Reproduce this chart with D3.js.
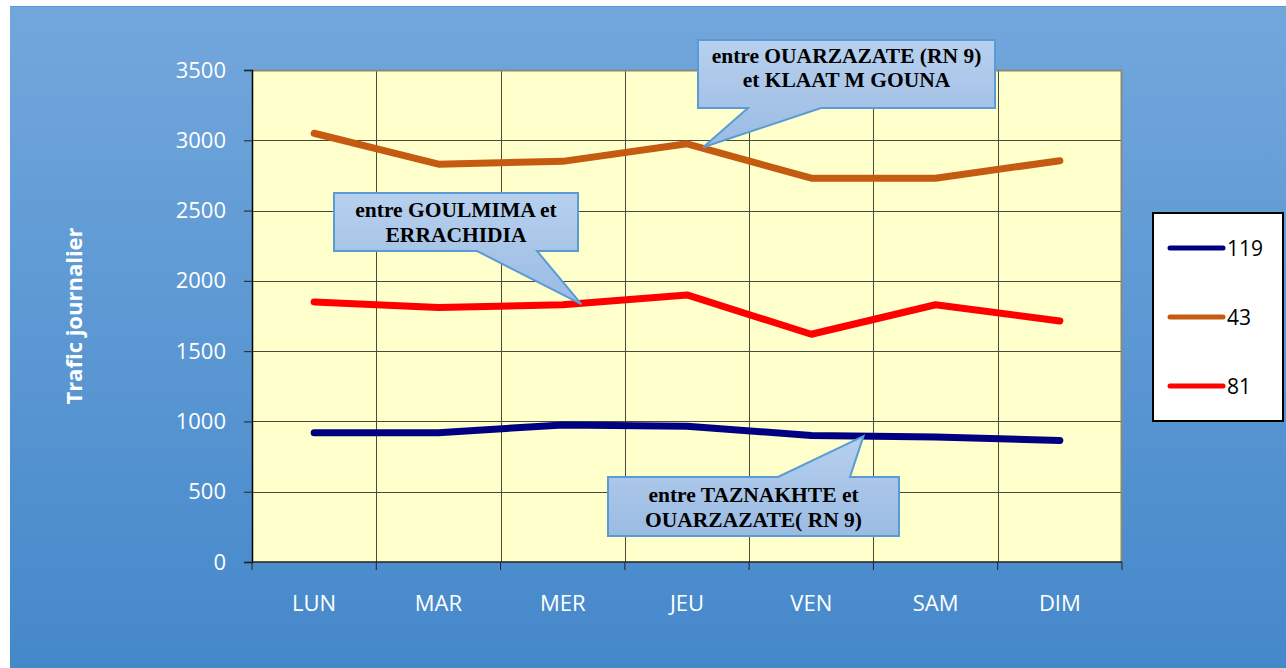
<!DOCTYPE html>
<html lang="fr">
<head>
<meta charset="UTF-8">
<title>Trafic journalier</title>
<script src="https://d3js.org/d3.v7.min.js"></script>
<style>
  body { margin: 0; background: #ffffff; }
  svg { display: block; }
</style>
</head>
<body>
<div id="chart"></div>
<script>
// data
var days = ["LUN", "MAR", "MER", "JEU", "VEN", "SAM", "DIM"];
var route119 = [920, 920, 975, 965, 900, 890, 865];
var route43 = [3050, 2830, 2850, 2975, 2730, 2730, 2855];
var route81 = [1850, 1810, 1830, 1900, 1620, 1830, 1715];
var yTicks = [0, 500, 1000, 1500, 2000, 2500, 3000, 3500];
var seriesNames = ["119", "43", "81"];
var seriesColors = ["#000080", "#C55A11", "#FF0000"];

var W = 1286, H = 668;
var margin = {top: 70, right: 164, bottom: 106, left: 252};
var width = W - margin.left - margin.right,   // 870
    height = H - margin.top - margin.bottom;  // 492

var svg = d3.select("#chart").append("svg")
    .attr("width", W)
    .attr("height", H);

var defs = svg.append("defs");
var bg = defs.append("linearGradient").attr("id", "bgGrad")
    .attr("x1", 0).attr("y1", 0).attr("x2", 0).attr("y2", 1);
bg.append("stop").attr("offset", "0%").attr("stop-color", "#72A7DC");
bg.append("stop").attr("offset", "100%").attr("stop-color", "#4588CA");
var cg = defs.append("linearGradient").attr("id", "calloutGrad")
    .attr("x1", 0).attr("y1", 0).attr("x2", 0).attr("y2", 1);
cg.append("stop").attr("offset", "0%").attr("stop-color", "#B7D0EE");
cg.append("stop").attr("offset", "100%").attr("stop-color", "#9ABBE3");

// blue panel
svg.append("rect")
    .attr("x", 10).attr("y", 6)
    .attr("width", W - 10).attr("height", H - 6)
    .attr("fill", "url(#bgGrad)");
svg.append("line")
    .attr("x1", 10).attr("x2", W).attr("y1", 6.5).attr("y2", 6.5)
    .attr("stroke", "#5B9BD5").attr("stroke-width", 1);

var g = svg.append("g")
    .attr("transform", "translate(" + margin.left + "," + margin.top + ")");

// scales
var x = d3.scaleBand().domain(days).range([0, width]);
var y = d3.scaleLinear().domain([0, 3500]).range([height, 0]);

// plot area
g.append("rect")
    .attr("width", width).attr("height", height)
    .attr("fill", "#FFFFCC");

// grid
g.selectAll(".hgrid").data(yTicks.slice(1, -1)).enter().append("line")
    .attr("x1", 0).attr("x2", width)
    .attr("y1", function(d) { return Math.round(y(d)) + 0.5; })
    .attr("y2", function(d) { return Math.round(y(d)) + 0.5; })
    .attr("stroke", "#4a4a3a").attr("stroke-width", 1);
g.selectAll(".vgrid").data(days.slice(1)).enter().append("line")
    .attr("x1", function(d) { return Math.round(x(d)) + 0.5; })
    .attr("x2", function(d) { return Math.round(x(d)) + 0.5; })
    .attr("y1", 0).attr("y2", height)
    .attr("stroke", "#4a4a3a").attr("stroke-width", 1);

// plot border (top / right grey)
g.append("path")
    .attr("d", "M0,0.5H" + (width - 0.5) + "V" + height)
    .attr("fill", "none").attr("stroke", "#8a8a7a").attr("stroke-width", 2);

// y axis
var yAxis = g.append("g")
    .call(d3.axisLeft(y).tickValues(yTicks).tickFormat(d3.format("d"))
      .tickSize(8).tickPadding(18));
yAxis.select(".domain").attr("stroke", "#000").attr("stroke-width", 1.5);
yAxis.selectAll(".tick line").attr("stroke", "#222");
yAxis.selectAll("text")
    .attr("fill", "#fff")
    .style("font-family", "'Open Sans', sans-serif")
    .style("font-size", "22px");

// x axis: ticks on band boundaries
var xAxis = g.append("g").attr("transform", "translate(0," + height + ")");
xAxis.append("line")
    .attr("x1", 0).attr("x2", width).attr("y1", 0).attr("y2", 0)
    .attr("stroke", "#222").attr("stroke-width", 1.5);
var bounds = days.map(function(d) { return x(d); }).concat([width]);
xAxis.selectAll(".xt").data(bounds).enter().append("line")
    .attr("x1", function(d) { return d; }).attr("x2", function(d) { return d; })
    .attr("y1", 0).attr("y2", 8)
    .attr("stroke", "#222");
xAxis.selectAll(".xl").data(days).enter().append("text")
    .attr("x", function(d) { return x(d) + x.bandwidth() / 2; })
    .attr("y", 49)
    .attr("text-anchor", "middle")
    .attr("fill", "#fff")
    .style("font-family", "'Open Sans', sans-serif")
    .style("font-size", "22px")
    .text(function(d) { return d; });

// y title
svg.append("text")
    .attr("transform", "translate(82,316) rotate(-90)")
    .attr("text-anchor", "middle")
    .attr("fill", "#fff")
    .style("font-family", "'Open Sans', sans-serif")
    .style("font-weight", "bold")
    .style("font-size", "22px")
    .text("Trafic journalier");

// lines
var cx = function(i) { return x(days[i]) + x.bandwidth() / 2; };
var line = d3.line()
    .x(function(d, i) { return cx(i); })
    .y(function(d) { return y(d); });
var allSeries = [route119, route43, route81];
// draw order: orange, red, navy
[1, 2, 0].forEach(function(k) {
  g.append("path")
      .datum(allSeries[k])
      .attr("fill", "none")
      .attr("stroke", seriesColors[k])
      .attr("stroke-width", 7)
      .attr("stroke-linejoin", "round")
      .attr("stroke-linecap", "round")
      .attr("d", line);
});

// callouts
function callout(box, base, tip, lines, baselines) {
  var x0 = box[0], y0 = box[1], x1 = box[2], y1 = box[3];
  var p;
  if (tip[1] > y1) {
    p = "M" + x0 + "," + y0 + "H" + x1 + "V" + y1 + "H" + base[1] +
        "L" + tip[0] + "," + tip[1] + "L" + base[0] + "," + y1 + "H" + x0 + "Z";
  } else {
    p = "M" + x0 + "," + y0 + "H" + base[0] + "L" + tip[0] + "," + tip[1] +
        "L" + base[1] + "," + y0 + "H" + x1 + "V" + y1 + "H" + x0 + "Z";
  }
  svg.append("path")
      .attr("d", p)
      .attr("fill", "url(#calloutGrad)")
      .attr("stroke", "#5B9BD5")
      .attr("stroke-width", 2)
      .attr("stroke-linejoin", "miter");
  lines.forEach(function(t, i) {
    svg.append("text")
        .attr("x", (x0 + x1) / 2)
        .attr("y", baselines[i])
        .attr("text-anchor", "middle")
        .attr("fill", "#000")
        .style("font-family", "'Liberation Serif', 'Times New Roman', serif")
        .style("font-weight", "bold")
        .style("font-size", "21.5px")
        .text(t);
  });
}

var px = function(i, f) { return margin.left + cx(i) + f * x.bandwidth(); };
var py = function(v) { return margin.top + y(v); };

callout([698, 40, 995, 108], [748, 821], [px(3, 0.13), py(2950)],
        ["entre OUARZAZATE (RN 9)", "et KLAAT M GOUNA"], [63, 87]);
callout([334, 193, 578, 251], [477, 537], [px(2, 0.15), py(1835)],
        ["entre GOULMIMA et", "ERRACHIDIA"], [217, 242]);
callout([608, 477, 899, 536], [778, 850], [px(4, 0.42), py(895)],
        ["entre TAZNAKHTE et", "OUARZAZATE( RN 9)"], [502, 527]);

// legend
var leg = svg.append("g");
leg.append("rect")
    .attr("x", 1153).attr("y", 213)
    .attr("width", 130).attr("height", 208)
    .attr("fill", "#fff").attr("stroke", "#000").attr("stroke-width", 2);
seriesNames.forEach(function(name, i) {
  var ly = 248 + i * 69;
  leg.append("line")
      .attr("x1", 1170).attr("x2", 1223)
      .attr("y1", ly).attr("y2", ly)
      .attr("stroke", seriesColors[i]).attr("stroke-width", 5)
      .attr("stroke-linecap", "round");
  leg.append("text")
      .attr("x", 1227).attr("y", ly + 8)
      .attr("fill", "#000")
      .style("font-family", "'Open Sans', sans-serif")
      .style("font-size", "21px")
      .text(name);
});
</script>
</body>
</html>
